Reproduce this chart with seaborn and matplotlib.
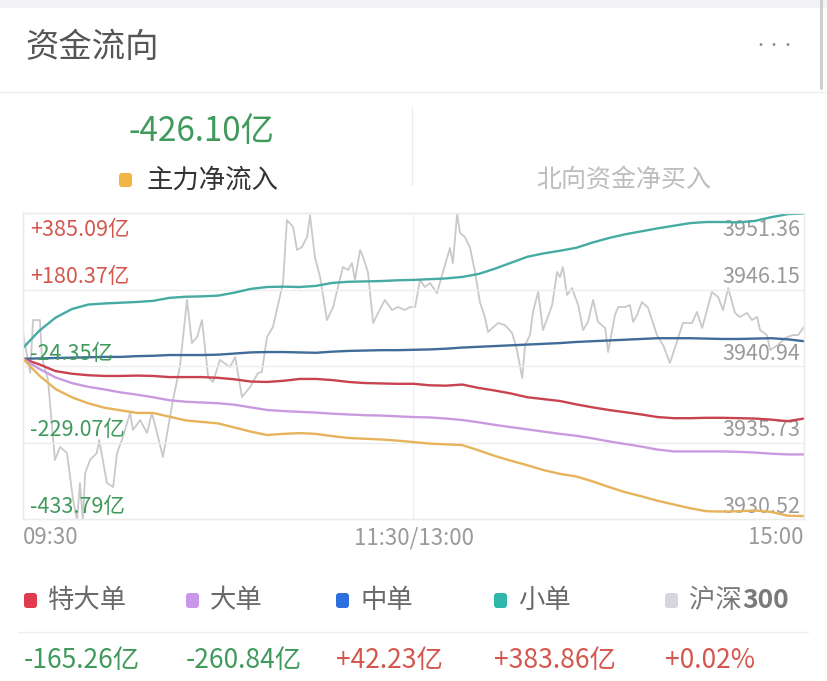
import numpy as np
import pandas as pd
import matplotlib.pyplot as plt
import seaborn as sns
from matplotlib.patches import FancyBboxPatch, Rectangle

# minutes since 09:30 (lunch break removed), 0..240
minutes = list(range(0, 241, 5))

# 亿 values
super_large = [-5, -20, -38, -45, -49, -51, -51, -50, -51, -54, -54, -54, -56, -60, -66, -67, -64,
               -59, -59, -62, -67, -70, -71, -72, -72, -76, -77, -74, -83, -90, -98, -108, -113,
               -118, -127, -135, -142, -148, -154, -161, -164, -164, -163, -163, -164, -165, -168,
               -172, -165]
large = [-5, -32, -55, -70, -80, -87, -95, -101, -108, -116, -120, -122, -124, -128, -135, -142,
         -145, -147, -149, -152, -154, -156, -157, -159, -161, -162, -165, -169, -175, -182, -188,
         -194, -200, -206, -211, -218, -226, -233, -240, -248, -253, -253, -253, -253, -254, -256,
         -259, -261, -261]
medium = [-5, -4, -3, -2, -1, 0, 0, 2, 3, 5, 5, 5, 6, 9, 12, 13, 13, 12, 11, 14, 16, 17, 18, 18,
          19, 20, 22, 25, 27, 29, 31, 33, 35, 37, 40, 42, 44, 46, 48, 50, 50, 50, 49, 48, 48, 49,
          50, 47, 42]
small = [24, 70, 105, 128, 140, 143, 145, 147, 150, 158, 161, 162, 164, 172, 182, 187, 188, 187,
         190, 198, 201, 202, 203, 205, 206, 208, 210, 214, 222, 236, 252, 268, 277, 284, 292, 306,
         318, 328, 336, 344, 351, 358, 361, 361, 360, 364, 374, 382, 384]
main_force = [-5, -50, -86, -108, -124, -136, -143, -150, -150, -160, -170, -174, -178, -189, -200,
              -209, -206, -204, -206, -212, -217, -219, -221, -224, -228, -232, -234, -236, -250,
              -265, -278, -290, -303, -313, -320, -333, -348, -362, -373, -385, -395, -405, -413,
              -414, -413, -411, -415, -425, -426]

# 沪深300 index (right scale)
hs300_min = [0, 2.2, 3.1, 5.2, 5.8, 7.7, 9.8, 11.4, 13.5, 15.4, 16.6, 17.5, 18.4, 19.1, 20.6, 22.7,
             23.4, 25.8, 27.7, 28.9, 30.4, 32.9, 33.8, 36.0, 38.1, 39.6, 41.2, 43.0, 44.3, 46.1,
             48.2, 50.4, 51.9, 53.5, 55.0, 56.9, 58.4, 60.5, 63.6, 65.2, 67.3, 69.8, 72.2, 73.4,
             75.0, 76.8, 79.9, 81.1, 83.0, 84.2, 85.7, 87.3, 88.2, 89.7, 91.3, 93.4, 95.3, 98.3,
             99.9, 101.1, 102.0, 103.6, 104.5, 106.0, 107.6, 109.1, 111.2, 113.4, 115.2, 117.4,
             118.9, 120.5, 122.0, 123.5, 125.1, 127.2, 129.7, 131.2, 132.1, 133.4, 134.3, 135.8,
             137.4, 138.9, 140.4, 142.0, 142.9, 146.0, 148.1, 150.3, 151.8, 153.4, 154.3, 155.8,
             156.7, 158.3, 159.8, 162.6, 164.1, 165.0, 165.9, 167.2, 168.7, 170.6, 172.1, 173.6,
             175.2, 176.7, 178.9, 179.8, 181.9, 182.9, 185.0, 186.5, 187.5, 188.7, 190.2, 192.1,
             194.8, 196.7, 198.8, 201.3, 202.8, 205.6, 207.1, 208.7, 210.2, 211.7, 213.6, 215.1,
             216.7, 218.8, 220.3, 222.5, 224.0, 225.6, 226.5, 228.6, 229.6, 232.0, 234.2, 236.6,
             238.2, 240]
hs300_val = [3943.19, 3940.46, 3944.07, 3944.07, 3941.55, 3939.99, 3934.54, 3935.42, 3935.02,
             3931.82, 3930.45, 3932.97, 3930.45, 3933.65, 3934.54, 3935.02, 3935.90, 3932.97,
             3932.70, 3935.02, 3935.90, 3937.74, 3936.58, 3937.26, 3936.38, 3937.74, 3936.38,
             3934.74, 3936.38, 3938.63, 3940.87, 3945.44, 3942.51, 3942.92, 3944.07, 3940.19,
             3939.85, 3941.35, 3940.87, 3941.55, 3938.83, 3939.51, 3940.46, 3940.53, 3942.92,
             3943.60, 3946.59, 3950.88, 3950.41, 3948.84, 3949.04, 3949.73, 3951.20, 3948.36,
             3947.00, 3944.07, 3944.96, 3947.68, 3947.48, 3947.95, 3946.80, 3948.84, 3948.36,
             3947.34, 3943.87, 3944.55, 3945.44, 3944.75, 3944.96, 3944.75, 3944.96, 3944.96,
             3946.80, 3946.32, 3946.59, 3945.91, 3947.82, 3948.98, 3947.95, 3951.30, 3950.00,
             3949.73, 3948.98, 3947.34, 3945.30, 3944.21, 3943.26, 3943.87, 3943.73, 3943.19,
             3942.03, 3940.12, 3942.37, 3943.05, 3944.62, 3945.98, 3943.39, 3945.09, 3947.34,
             3947.00, 3947.68, 3945.78, 3946.25, 3945.09, 3943.39, 3943.94, 3945.44, 3943.94,
             3943.53, 3941.89, 3944.41, 3944.96, 3944.96, 3945.09, 3943.94, 3944.41, 3945.30,
             3944.89, 3943.05, 3942.37, 3941.14, 3942.85, 3943.87, 3943.87, 3944.62, 3943.53,
             3944.75, 3945.98, 3945.64, 3944.75, 3946.25, 3944.55, 3944.28, 3944.55, 3944.07,
             3944.28, 3943.39, 3943.05, 3942.03, 3942.37, 3942.85, 3943.05, 3943.05, 3943.60]

left_ticks = [385.09, 180.37, -24.35, -229.07, -433.79]
right_ticks = [3951.36, 3946.15, 3940.94, 3935.73, 3930.52]
x_labels = ["09:30", "11:30/13:00", "15:00"]

legend_names = ["特大单", "大单", "中单", "小单", "沪深300"]
legend_values = ["-165.26亿", "-260.84亿", "+42.23亿", "+383.86亿", "+0.02%"]

RED_TXT = "#d4574e"
GREEN_TXT = "#3f9a5c"

sns.set_style("white")
plt.rcParams['font.family'] = ['Noto Sans CJK SC', 'DejaVu Sans']

fig = plt.figure(figsize=(8.28, 6.81), dpi=100)
fig.patch.set_facecolor("white")

# overlay in pixel coordinates for the app chrome
ov = fig.add_axes([0, 0, 1, 1])
ov.set_xlim(0, 828)
ov.set_ylim(681, 0)
ov.axis("off")
ov.add_patch(Rectangle((0, 0), 828, 8, color="#f3f3f5", lw=0))
ov.plot([821, 821], [0, 88], color="#cfcfcf", lw=2.2, solid_capstyle="round")
ov.text(25, 47, "资金流向", fontsize=24, color="#555555", va="center", ha="left")
ov.text(775, 46, "•••", fontsize=10, color="#8a8a8a", va="center", ha="center")
ov.plot([0, 828], [92, 92], color="#eeeeee", lw=1)
ov.plot([412, 412], [107, 185], color="#eeeeee", lw=1)

ov.text(202, 132, "-426.10亿", fontsize=24, color=GREEN_TXT, va="center", ha="center",
        fontweight="medium")
ov.add_patch(FancyBboxPatch((119, 173), 13, 14, boxstyle="round,pad=0,rounding_size=3",
                            color="#f2b544", lw=0))
ov.text(147, 180, "主力净流入", fontsize=19, color="#333333", va="center", ha="left")
ov.text(624, 181, "北向资金净买入", fontsize=18, color="#bdbdbd", va="center", ha="center")

# legend row
leg_colors = ["#e23a4f", "#c996ea", "#2e6fdf", "#2fb7ad", "#d6d6e2"]
leg_x = [24, 186, 336, 494, 665]
for x, c, name in zip(leg_x, leg_colors, legend_names):
    ov.add_patch(FancyBboxPatch((x, 593), 13, 15, boxstyle="round,pad=0,rounding_size=3",
                                color=c, lw=0))
    if name == "沪深300":
        ov.text(x + 24, 600, name[:2], fontsize=19, color="#7a7a7a", va="center", ha="left")
        ov.text(x + 77, 600, name[2:], fontsize=19, color="#7a7a7a", va="center", ha="left",
                fontweight="bold")
    else:
        ov.text(x + 24, 600, name, fontsize=19, color="#6a6a6a", va="center", ha="left")
ov.plot([18, 808], [632, 632], color="#eeeeee", lw=1)
for x, v in zip(leg_x, legend_values):
    ov.text(x, 661, v, fontsize=19, color=GREEN_TXT if v.startswith("-") else RED_TXT,
            va="center", ha="left")

# main chart
ax = fig.add_axes([23 / 828, (681 - 519) / 681, 781 / 828, 306 / 681])
ax2 = ax.twinx()

hs = pd.DataFrame({"minute": hs300_min, "value": hs300_val})
sns.lineplot(data=hs, x="minute", y="value", ax=ax2, color="#c9c9c9", lw=1.3)
ax2.set_ylim(right_ticks[-1], right_ticks[0])

flows = pd.DataFrame({
    "minute": minutes * 5,
    "value": small + medium + super_large + large + main_force,
    "series": (["小单"] * len(minutes) + ["中单"] * len(minutes) + ["特大单"] * len(minutes)
               + ["大单"] * len(minutes) + ["主力"] * len(minutes)),
})
palette = {"小单": "#45aba3", "中单": "#3f6c98", "特大单": "#c8434f", "大单": "#c99ae0",
           "主力": "#e6b35a"}
sns.lineplot(data=flows, x="minute", y="value", hue="series", palette=palette, ax=ax,
             lw=1.7, legend=False)
ax.set_xlim(0, 240)
ax.set_ylim(left_ticks[-1], left_ticks[0])

ax.set_zorder(ax2.get_zorder() + 1)
ax.patch.set_visible(False)

for a in (ax, ax2):
    a.set_xticks([])
    a.set_yticks([])
    a.set_xlabel("")
    a.set_ylabel("")
    for s in a.spines.values():
        s.set_color("#ececec")
        s.set_linewidth(1)

for v in left_ticks[1:-1]:
    ax.axhline(v, color="#ececec", lw=1, zorder=0)
ax.axvline(120, color="#f0f0f0", lw=1, zorder=0)

for i, v in enumerate(left_ticks):
    c = RED_TXT if v > 0 else GREEN_TXT
    txt = ("+%.2f亿" % v) if v > 0 else ("%.2f亿" % v)
    if i == 0:
        ax.annotate(txt, (0, v), xytext=(5, -4), textcoords="offset points", fontsize=15.5,
                    color=c, va="top", ha="left", fontweight="light")
    else:
        ax.annotate(txt, (0, v), xytext=(5, 1), textcoords="offset points", fontsize=15.5,
                    color=c, va="bottom", ha="left", fontweight="light")
for i, v in enumerate(right_ticks):
    if i == 0:
        ax2.annotate("%.2f" % v, (240, v), xytext=(-3, -4), textcoords="offset points",
                     fontsize=15.5, color="#9a9a9a", va="top", ha="right", fontweight="light")
    else:
        ax2.annotate("%.2f" % v, (240, v), xytext=(-3, 1), textcoords="offset points",
                     fontsize=15.5, color="#9a9a9a", va="bottom", ha="right", fontweight="light")

ov.text(23, 538, x_labels[0], fontsize=16, color="#9a9a9a", va="center", ha="left",
        fontweight="light")
ov.text(414, 538, x_labels[1], fontsize=16, color="#9a9a9a", va="center", ha="center",
        fontweight="light")
ov.text(804, 538, x_labels[2], fontsize=16, color="#9a9a9a", va="center", ha="right",
        fontweight="light")

fig.savefig("out.png", dpi=100)
